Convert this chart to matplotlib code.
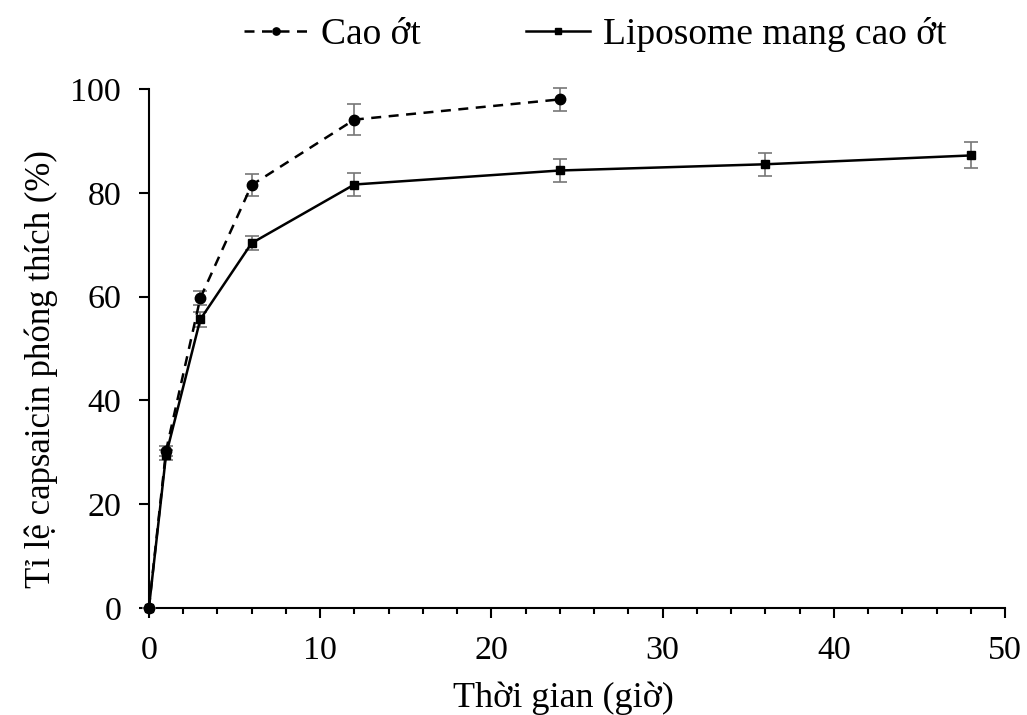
import matplotlib.pyplot as plt
from matplotlib.ticker import MultipleLocator

# thời gian (giờ)
t_cao = [0, 1, 3, 6, 12, 24]
t_lipo = [0, 1, 3, 6, 12, 24, 36, 48]

# tỉ lệ phóng thích (%)
cao = [0, 30.3, 59.7, 81.5, 94.1, 98.0]
cao_err = [0, 1.0, 1.3, 2.1, 3.0, 2.2]
lipo = [0, 29.5, 55.6, 70.3, 81.6, 84.3, 85.5, 87.2]
lipo_err = [0, 1.0, 1.4, 1.4, 2.3, 2.3, 2.2, 2.5]

plt.rcParams['font.family'] = ['Liberation Serif', 'DejaVu Serif']

fig = plt.figure(figsize=(10.27, 7.15), dpi=100)
ax = fig.add_axes([0.145, 0.1497, 0.8336, 0.7258])

ax.errorbar(t_cao, cao, yerr=cao_err, color='black', ls=(0, (4, 3)), lw=1.8,
            marker='o', ms=7.5, ecolor='#777777', elinewidth=1.2, capsize=5,
            capthick=1.2, clip_on=False, label='Cao ớt', zorder=3)
ax.errorbar(t_lipo, lipo, yerr=lipo_err, color='black', ls='-', lw=1.8,
            marker='s', ms=5.5, ecolor='#777777', elinewidth=1.2, capsize=5,
            capthick=1.2, clip_on=False, label='Liposome mang cao ớt', zorder=3)

ax.set_xlim(0, 50)
ax.set_ylim(0, 100)
ax.xaxis.set_major_locator(MultipleLocator(10))
ax.xaxis.set_minor_locator(MultipleLocator(2))
ax.yaxis.set_major_locator(MultipleLocator(20))
ax.spines['top'].set_visible(False)
ax.spines['right'].set_visible(False)
for s in ['left', 'bottom']:
    ax.spines[s].set_linewidth(1.5)
ax.tick_params(axis='both', which='major', direction='out', length=7, width=1.5,
               labelsize=24.5, pad=13)
ax.tick_params(axis='x', which='minor', direction='out', length=4, width=1.5)

ax.set_xlabel('Thời gian (giờ)', fontsize=26)
ax.set_ylabel('Tỉ lệ capsaicin phóng thích (%)', fontsize=25)
ax.xaxis.set_label_coords(0.484, -0.142)
ax.yaxis.set_label_coords(-0.106, 0.461)

handles, labels = ax.get_legend_handles_labels()
handles = [h[0] for h in handles]
fig.legend(handles, labels, loc='upper left', bbox_to_anchor=(0.238, 0.976),
           ncol=2, frameon=False, fontsize=27, columnspacing=2.8,
           handlelength=1.7, handletextpad=0.35, markerscale=0.7,
           borderpad=0, borderaxespad=0)

fig.savefig('out.png', dpi=100)
